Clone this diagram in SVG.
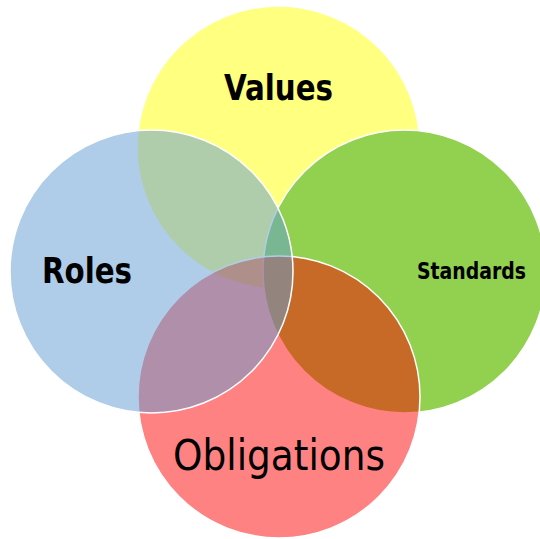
<svg xmlns="http://www.w3.org/2000/svg" width="540" height="539" viewBox="0 0 540 539">
<style>
.c{stroke:#fff;stroke-width:1.5}
.t{font-family:"DejaVu Sans Condensed","DejaVu Sans",sans-serif;font-stretch:condensed;fill:#000;text-anchor:middle}
.b{font-weight:bold}
</style>
<rect width="540" height="539" fill="#fff"/>
<g id="values"><circle class="c" cx="278.5" cy="147.5" r="141.5" fill="#FFFF80"/></g>
<g id="standards"><circle class="c" cx="404.5" cy="271.5" r="141.5" fill="#92D050"/></g>
<g id="obligations"><circle class="c" cx="279" cy="397" r="141" fill="#FF0000" fill-opacity="0.49"/></g>
<g id="roles"><circle class="c" cx="151.5" cy="271.5" r="141.5" fill="rgb(99,157,209)" fill-opacity="0.51"/></g>
<g id="labels">
<text class="t b" x="278.5" y="100" font-size="36" textLength="109" lengthAdjust="spacingAndGlyphs">Values</text>
<text class="t b" x="87" y="283" font-size="36" textLength="90" lengthAdjust="spacingAndGlyphs">Roles</text>
<text class="t b" x="471.5" y="279" font-size="23" textLength="109" lengthAdjust="spacingAndGlyphs">Standards</text>
<text class="t" x="279" y="470" font-size="42" textLength="212" lengthAdjust="spacingAndGlyphs">Obligations</text>
</g>
</svg>
